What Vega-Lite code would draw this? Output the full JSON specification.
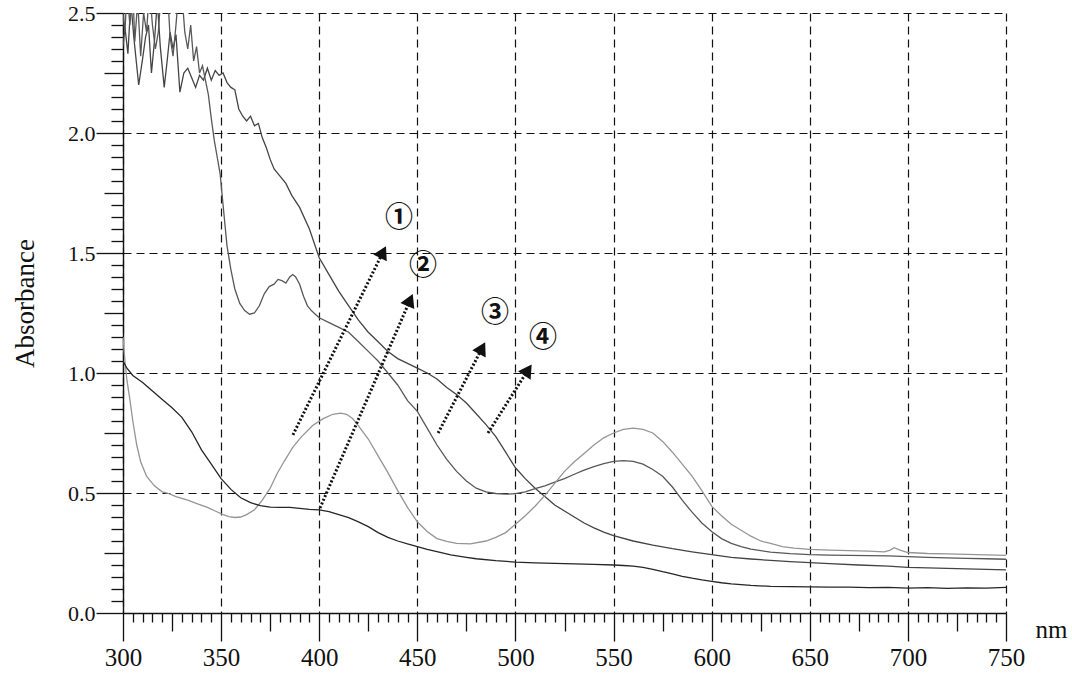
{
  "$schema": "https://vega.github.io/schema/vega-lite/v6.json",
  "width": 883,
  "height": 600,
  "autosize": {"type": "none"},
  "padding": {"left": 123, "top": 13, "right": 66, "bottom": 63},
  "background": "white",
  "config": {
    "view": {"stroke": null},
    "font": "Liberation Serif",
    "axis": {
      "domainColor": "#111",
      "domainWidth": 1.4,
      "tickColor": "#111",
      "tickWidth": 1.3,
      "gridColor": "#111",
      "gridWidth": 1.2,
      "gridDash": [8, 5],
      "labelColor": "#111",
      "titleColor": "#111",
      "labelFont": "Liberation Serif",
      "titleFont": "Liberation Serif",
      "titleFontWeight": "normal",
      "labelOverlap": false,
      "labelFlush": false
    }
  },
  "datasets": {
    "spectra": [
      {"curve": "1", "nm": 300, "A": 2.36}, {"curve": "1", "nm": 301, "A": 2.44}, {"curve": "1", "nm": 302.5, "A": 2.33}, {"curve": "1", "nm": 304, "A": 2.55}, {"curve": "1", "nm": 305.5, "A": 2.4}, {"curve": "1", "nm": 306.5, "A": 2.32}, {"curve": "1", "nm": 308, "A": 2.2}, {"curve": "1", "nm": 310, "A": 2.31}, {"curve": "1", "nm": 311.5, "A": 2.4}, {"curve": "1", "nm": 313, "A": 2.45}, {"curve": "1", "nm": 314.5, "A": 2.25}, {"curve": "1", "nm": 316, "A": 2.38}, {"curve": "1", "nm": 317.5, "A": 2.55}, {"curve": "1", "nm": 319, "A": 2.36}, {"curve": "1", "nm": 321, "A": 2.19}, {"curve": "1", "nm": 322.5, "A": 2.3}, {"curve": "1", "nm": 324, "A": 2.42}, {"curve": "1", "nm": 325.5, "A": 2.35}, {"curve": "1", "nm": 327, "A": 2.41}, {"curve": "1", "nm": 329, "A": 2.17}, {"curve": "1", "nm": 331, "A": 2.25}, {"curve": "1", "nm": 333, "A": 2.27}, {"curve": "1", "nm": 335, "A": 2.23}, {"curve": "1", "nm": 337, "A": 2.19}, {"curve": "1", "nm": 339, "A": 2.24}, {"curve": "1", "nm": 341, "A": 2.22}, {"curve": "1", "nm": 343, "A": 2.27}, {"curve": "1", "nm": 345, "A": 2.22}, {"curve": "1", "nm": 347, "A": 2.26}, {"curve": "1", "nm": 349, "A": 2.24}, {"curve": "1", "nm": 351, "A": 2.25}, {"curve": "1", "nm": 353, "A": 2.21}, {"curve": "1", "nm": 355, "A": 2.19}, {"curve": "1", "nm": 357, "A": 2.18}, {"curve": "1", "nm": 359, "A": 2.1}, {"curve": "1", "nm": 361, "A": 2.07}, {"curve": "1", "nm": 363, "A": 2.05}, {"curve": "1", "nm": 365, "A": 2.07}, {"curve": "1", "nm": 367, "A": 2.03}, {"curve": "1", "nm": 369, "A": 2.04}, {"curve": "1", "nm": 371, "A": 1.98}, {"curve": "1", "nm": 373, "A": 1.94}, {"curve": "1", "nm": 375, "A": 1.89}, {"curve": "1", "nm": 377, "A": 1.85}, {"curve": "1", "nm": 380, "A": 1.82}, {"curve": "1", "nm": 383, "A": 1.79}, {"curve": "1", "nm": 386, "A": 1.74}, {"curve": "1", "nm": 390, "A": 1.69}, {"curve": "1", "nm": 395, "A": 1.6}, {"curve": "1", "nm": 400, "A": 1.48}, {"curve": "1", "nm": 405, "A": 1.41}, {"curve": "1", "nm": 410, "A": 1.34}, {"curve": "1", "nm": 415, "A": 1.28}, {"curve": "1", "nm": 420, "A": 1.22}, {"curve": "1", "nm": 425, "A": 1.17}, {"curve": "1", "nm": 430, "A": 1.13}, {"curve": "1", "nm": 435, "A": 1.09}, {"curve": "1", "nm": 440, "A": 1.06}, {"curve": "1", "nm": 445, "A": 1.04}, {"curve": "1", "nm": 450, "A": 1.02}, {"curve": "1", "nm": 455, "A": 1.0}, {"curve": "1", "nm": 460, "A": 0.975}, {"curve": "1", "nm": 465, "A": 0.94}, {"curve": "1", "nm": 470, "A": 0.91}, {"curve": "1", "nm": 475, "A": 0.875}, {"curve": "1", "nm": 480, "A": 0.83}, {"curve": "1", "nm": 485, "A": 0.785}, {"curve": "1", "nm": 490, "A": 0.735}, {"curve": "1", "nm": 495, "A": 0.67}, {"curve": "1", "nm": 500, "A": 0.605}, {"curve": "1", "nm": 505, "A": 0.56}, {"curve": "1", "nm": 510, "A": 0.52}, {"curve": "1", "nm": 515, "A": 0.485}, {"curve": "1", "nm": 520, "A": 0.45}, {"curve": "1", "nm": 525, "A": 0.425}, {"curve": "1", "nm": 530, "A": 0.4}, {"curve": "1", "nm": 535, "A": 0.375}, {"curve": "1", "nm": 540, "A": 0.355}, {"curve": "1", "nm": 545, "A": 0.337}, {"curve": "1", "nm": 550, "A": 0.322}, {"curve": "1", "nm": 560, "A": 0.3}, {"curve": "1", "nm": 570, "A": 0.283}, {"curve": "1", "nm": 580, "A": 0.268}, {"curve": "1", "nm": 590, "A": 0.255}, {"curve": "1", "nm": 600, "A": 0.243}, {"curve": "1", "nm": 610, "A": 0.232}, {"curve": "1", "nm": 620, "A": 0.225}, {"curve": "1", "nm": 630, "A": 0.219}, {"curve": "1", "nm": 640, "A": 0.214}, {"curve": "1", "nm": 650, "A": 0.21}, {"curve": "1", "nm": 660, "A": 0.206}, {"curve": "1", "nm": 675, "A": 0.2}, {"curve": "1", "nm": 690, "A": 0.195}, {"curve": "1", "nm": 700, "A": 0.19}, {"curve": "1", "nm": 710, "A": 0.188}, {"curve": "1", "nm": 725, "A": 0.185}, {"curve": "1", "nm": 740, "A": 0.182}, {"curve": "1", "nm": 750, "A": 0.18},

      {"curve": "2", "nm": 300, "A": 2.5}, {"curve": "2", "nm": 301, "A": 2.42}, {"curve": "2", "nm": 302, "A": 2.6}, {"curve": "2", "nm": 303.5, "A": 2.45}, {"curve": "2", "nm": 305, "A": 2.6}, {"curve": "2", "nm": 306, "A": 2.38}, {"curve": "2", "nm": 307.5, "A": 2.55}, {"curve": "2", "nm": 309, "A": 2.32}, {"curve": "2", "nm": 310.5, "A": 2.5}, {"curve": "2", "nm": 312, "A": 2.42}, {"curve": "2", "nm": 313.5, "A": 2.6}, {"curve": "2", "nm": 315, "A": 2.45}, {"curve": "2", "nm": 316.5, "A": 2.35}, {"curve": "2", "nm": 318, "A": 2.42}, {"curve": "2", "nm": 319.5, "A": 2.6}, {"curve": "2", "nm": 321, "A": 2.55}, {"curve": "2", "nm": 322.5, "A": 2.62}, {"curve": "2", "nm": 324, "A": 2.4}, {"curve": "2", "nm": 325.5, "A": 2.32}, {"curve": "2", "nm": 327, "A": 2.45}, {"curve": "2", "nm": 328.5, "A": 2.6}, {"curve": "2", "nm": 330, "A": 2.58}, {"curve": "2", "nm": 331.5, "A": 2.42}, {"curve": "2", "nm": 333, "A": 2.35}, {"curve": "2", "nm": 334.5, "A": 2.45}, {"curve": "2", "nm": 336, "A": 2.3}, {"curve": "2", "nm": 337.5, "A": 2.36}, {"curve": "2", "nm": 339, "A": 2.25}, {"curve": "2", "nm": 340.5, "A": 2.28}, {"curve": "2", "nm": 342, "A": 2.22}, {"curve": "2", "nm": 343.5, "A": 2.16}, {"curve": "2", "nm": 345, "A": 2.06}, {"curve": "2", "nm": 346.5, "A": 1.97}, {"curve": "2", "nm": 348, "A": 1.9}, {"curve": "2", "nm": 349.5, "A": 1.83}, {"curve": "2", "nm": 351, "A": 1.7}, {"curve": "2", "nm": 353, "A": 1.53}, {"curve": "2", "nm": 355, "A": 1.43}, {"curve": "2", "nm": 357, "A": 1.35}, {"curve": "2", "nm": 359.5, "A": 1.29}, {"curve": "2", "nm": 362, "A": 1.26}, {"curve": "2", "nm": 364.5, "A": 1.245}, {"curve": "2", "nm": 367, "A": 1.25}, {"curve": "2", "nm": 369.5, "A": 1.28}, {"curve": "2", "nm": 372, "A": 1.33}, {"curve": "2", "nm": 374.5, "A": 1.36}, {"curve": "2", "nm": 377, "A": 1.37}, {"curve": "2", "nm": 379, "A": 1.39}, {"curve": "2", "nm": 381, "A": 1.385}, {"curve": "2", "nm": 383, "A": 1.375}, {"curve": "2", "nm": 385, "A": 1.4}, {"curve": "2", "nm": 386.5, "A": 1.41}, {"curve": "2", "nm": 388, "A": 1.4}, {"curve": "2", "nm": 390, "A": 1.37}, {"curve": "2", "nm": 392, "A": 1.32}, {"curve": "2", "nm": 394, "A": 1.28}, {"curve": "2", "nm": 396, "A": 1.26}, {"curve": "2", "nm": 398, "A": 1.245}, {"curve": "2", "nm": 400, "A": 1.23}, {"curve": "2", "nm": 405, "A": 1.21}, {"curve": "2", "nm": 410, "A": 1.19}, {"curve": "2", "nm": 415, "A": 1.17}, {"curve": "2", "nm": 420, "A": 1.13}, {"curve": "2", "nm": 425, "A": 1.09}, {"curve": "2", "nm": 430, "A": 1.05}, {"curve": "2", "nm": 435, "A": 1.0}, {"curve": "2", "nm": 440, "A": 0.95}, {"curve": "2", "nm": 445, "A": 0.885}, {"curve": "2", "nm": 450, "A": 0.84}, {"curve": "2", "nm": 455, "A": 0.77}, {"curve": "2", "nm": 460, "A": 0.7}, {"curve": "2", "nm": 465, "A": 0.64}, {"curve": "2", "nm": 470, "A": 0.59}, {"curve": "2", "nm": 475, "A": 0.55}, {"curve": "2", "nm": 480, "A": 0.52}, {"curve": "2", "nm": 485, "A": 0.505}, {"curve": "2", "nm": 490, "A": 0.498}, {"curve": "2", "nm": 495, "A": 0.495}, {"curve": "2", "nm": 500, "A": 0.497}, {"curve": "2", "nm": 505, "A": 0.505}, {"curve": "2", "nm": 510, "A": 0.518}, {"curve": "2", "nm": 515, "A": 0.53}, {"curve": "2", "nm": 520, "A": 0.545}, {"curve": "2", "nm": 525, "A": 0.56}, {"curve": "2", "nm": 530, "A": 0.578}, {"curve": "2", "nm": 535, "A": 0.595}, {"curve": "2", "nm": 540, "A": 0.61}, {"curve": "2", "nm": 545, "A": 0.622}, {"curve": "2", "nm": 550, "A": 0.632}, {"curve": "2", "nm": 555, "A": 0.635}, {"curve": "2", "nm": 560, "A": 0.632}, {"curve": "2", "nm": 565, "A": 0.62}, {"curve": "2", "nm": 570, "A": 0.598}, {"curve": "2", "nm": 575, "A": 0.57}, {"curve": "2", "nm": 580, "A": 0.525}, {"curve": "2", "nm": 585, "A": 0.47}, {"curve": "2", "nm": 590, "A": 0.42}, {"curve": "2", "nm": 595, "A": 0.375}, {"curve": "2", "nm": 600, "A": 0.34}, {"curve": "2", "nm": 605, "A": 0.31}, {"curve": "2", "nm": 610, "A": 0.29}, {"curve": "2", "nm": 615, "A": 0.277}, {"curve": "2", "nm": 620, "A": 0.266}, {"curve": "2", "nm": 630, "A": 0.254}, {"curve": "2", "nm": 640, "A": 0.247}, {"curve": "2", "nm": 650, "A": 0.243}, {"curve": "2", "nm": 660, "A": 0.241}, {"curve": "2", "nm": 670, "A": 0.24}, {"curve": "2", "nm": 680, "A": 0.239}, {"curve": "2", "nm": 690, "A": 0.238}, {"curve": "2", "nm": 700, "A": 0.235}, {"curve": "2", "nm": 710, "A": 0.232}, {"curve": "2", "nm": 720, "A": 0.23}, {"curve": "2", "nm": 730, "A": 0.228}, {"curve": "2", "nm": 740, "A": 0.226}, {"curve": "2", "nm": 750, "A": 0.224},

      {"curve": "3", "nm": 300, "A": 1.15}, {"curve": "3", "nm": 301, "A": 1.05}, {"curve": "3", "nm": 302, "A": 0.97}, {"curve": "3", "nm": 303.5, "A": 0.89}, {"curve": "3", "nm": 305, "A": 0.8}, {"curve": "3", "nm": 307, "A": 0.7}, {"curve": "3", "nm": 309, "A": 0.63}, {"curve": "3", "nm": 312, "A": 0.57}, {"curve": "3", "nm": 316, "A": 0.53}, {"curve": "3", "nm": 320, "A": 0.505}, {"curve": "3", "nm": 322.5, "A": 0.5}, {"curve": "3", "nm": 327, "A": 0.485}, {"curve": "3", "nm": 333, "A": 0.47}, {"curve": "3", "nm": 338, "A": 0.455}, {"curve": "3", "nm": 343, "A": 0.44}, {"curve": "3", "nm": 347, "A": 0.425}, {"curve": "3", "nm": 351, "A": 0.41}, {"curve": "3", "nm": 354, "A": 0.402}, {"curve": "3", "nm": 357, "A": 0.398}, {"curve": "3", "nm": 360, "A": 0.4}, {"curve": "3", "nm": 363, "A": 0.41}, {"curve": "3", "nm": 367, "A": 0.43}, {"curve": "3", "nm": 371, "A": 0.47}, {"curve": "3", "nm": 375, "A": 0.52}, {"curve": "3", "nm": 378.5, "A": 0.58}, {"curve": "3", "nm": 382, "A": 0.63}, {"curve": "3", "nm": 386.5, "A": 0.69}, {"curve": "3", "nm": 391, "A": 0.735}, {"curve": "3", "nm": 396.5, "A": 0.78}, {"curve": "3", "nm": 402, "A": 0.81}, {"curve": "3", "nm": 407, "A": 0.828}, {"curve": "3", "nm": 411, "A": 0.833}, {"curve": "3", "nm": 414, "A": 0.828}, {"curve": "3", "nm": 417, "A": 0.81}, {"curve": "3", "nm": 420, "A": 0.78}, {"curve": "3", "nm": 425, "A": 0.725}, {"curve": "3", "nm": 430, "A": 0.655}, {"curve": "3", "nm": 435, "A": 0.585}, {"curve": "3", "nm": 440, "A": 0.51}, {"curve": "3", "nm": 445, "A": 0.44}, {"curve": "3", "nm": 450, "A": 0.38}, {"curve": "3", "nm": 455, "A": 0.34}, {"curve": "3", "nm": 460, "A": 0.31}, {"curve": "3", "nm": 465, "A": 0.298}, {"curve": "3", "nm": 470, "A": 0.29}, {"curve": "3", "nm": 477, "A": 0.288}, {"curve": "3", "nm": 485, "A": 0.3}, {"curve": "3", "nm": 490, "A": 0.315}, {"curve": "3", "nm": 495, "A": 0.335}, {"curve": "3", "nm": 500, "A": 0.37}, {"curve": "3", "nm": 505, "A": 0.405}, {"curve": "3", "nm": 510, "A": 0.445}, {"curve": "3", "nm": 515, "A": 0.49}, {"curve": "3", "nm": 520, "A": 0.54}, {"curve": "3", "nm": 525, "A": 0.59}, {"curve": "3", "nm": 530, "A": 0.63}, {"curve": "3", "nm": 535, "A": 0.665}, {"curve": "3", "nm": 540, "A": 0.7}, {"curve": "3", "nm": 545, "A": 0.73}, {"curve": "3", "nm": 550, "A": 0.75}, {"curve": "3", "nm": 555, "A": 0.765}, {"curve": "3", "nm": 560, "A": 0.77}, {"curve": "3", "nm": 565, "A": 0.765}, {"curve": "3", "nm": 570, "A": 0.75}, {"curve": "3", "nm": 575, "A": 0.715}, {"curve": "3", "nm": 580, "A": 0.67}, {"curve": "3", "nm": 585, "A": 0.62}, {"curve": "3", "nm": 590, "A": 0.57}, {"curve": "3", "nm": 595, "A": 0.51}, {"curve": "3", "nm": 600, "A": 0.445}, {"curve": "3", "nm": 605, "A": 0.405}, {"curve": "3", "nm": 610, "A": 0.37}, {"curve": "3", "nm": 615, "A": 0.345}, {"curve": "3", "nm": 620, "A": 0.32}, {"curve": "3", "nm": 625, "A": 0.3}, {"curve": "3", "nm": 630, "A": 0.29}, {"curve": "3", "nm": 636, "A": 0.277}, {"curve": "3", "nm": 642, "A": 0.27}, {"curve": "3", "nm": 650, "A": 0.265}, {"curve": "3", "nm": 660, "A": 0.262}, {"curve": "3", "nm": 670, "A": 0.26}, {"curve": "3", "nm": 680, "A": 0.258}, {"curve": "3", "nm": 688, "A": 0.255}, {"curve": "3", "nm": 691, "A": 0.262}, {"curve": "3", "nm": 693, "A": 0.272}, {"curve": "3", "nm": 696, "A": 0.262}, {"curve": "3", "nm": 700, "A": 0.252}, {"curve": "3", "nm": 710, "A": 0.248}, {"curve": "3", "nm": 720, "A": 0.246}, {"curve": "3", "nm": 730, "A": 0.244}, {"curve": "3", "nm": 740, "A": 0.242}, {"curve": "3", "nm": 750, "A": 0.24},

      {"curve": "4", "nm": 300, "A": 1.05}, {"curve": "4", "nm": 302, "A": 1.02}, {"curve": "4", "nm": 305, "A": 0.99}, {"curve": "4", "nm": 310, "A": 0.96}, {"curve": "4", "nm": 315, "A": 0.925}, {"curve": "4", "nm": 320, "A": 0.89}, {"curve": "4", "nm": 325, "A": 0.855}, {"curve": "4", "nm": 330, "A": 0.815}, {"curve": "4", "nm": 335, "A": 0.755}, {"curve": "4", "nm": 340, "A": 0.68}, {"curve": "4", "nm": 345, "A": 0.62}, {"curve": "4", "nm": 350, "A": 0.56}, {"curve": "4", "nm": 355, "A": 0.515}, {"curve": "4", "nm": 360, "A": 0.48}, {"curve": "4", "nm": 365, "A": 0.46}, {"curve": "4", "nm": 370, "A": 0.447}, {"curve": "4", "nm": 375, "A": 0.441}, {"curve": "4", "nm": 380, "A": 0.44}, {"curve": "4", "nm": 385, "A": 0.44}, {"curve": "4", "nm": 390, "A": 0.436}, {"curve": "4", "nm": 395, "A": 0.432}, {"curve": "4", "nm": 400, "A": 0.43}, {"curve": "4", "nm": 405, "A": 0.422}, {"curve": "4", "nm": 410, "A": 0.41}, {"curve": "4", "nm": 415, "A": 0.397}, {"curve": "4", "nm": 420, "A": 0.38}, {"curve": "4", "nm": 425, "A": 0.36}, {"curve": "4", "nm": 430, "A": 0.335}, {"curve": "4", "nm": 435, "A": 0.315}, {"curve": "4", "nm": 440, "A": 0.3}, {"curve": "4", "nm": 445, "A": 0.288}, {"curve": "4", "nm": 450, "A": 0.277}, {"curve": "4", "nm": 455, "A": 0.265}, {"curve": "4", "nm": 460, "A": 0.256}, {"curve": "4", "nm": 467, "A": 0.242}, {"curve": "4", "nm": 475, "A": 0.232}, {"curve": "4", "nm": 480, "A": 0.226}, {"curve": "4", "nm": 490, "A": 0.218}, {"curve": "4", "nm": 500, "A": 0.212}, {"curve": "4", "nm": 510, "A": 0.209}, {"curve": "4", "nm": 520, "A": 0.207}, {"curve": "4", "nm": 530, "A": 0.205}, {"curve": "4", "nm": 540, "A": 0.203}, {"curve": "4", "nm": 550, "A": 0.2}, {"curve": "4", "nm": 555, "A": 0.198}, {"curve": "4", "nm": 560, "A": 0.195}, {"curve": "4", "nm": 565, "A": 0.19}, {"curve": "4", "nm": 570, "A": 0.182}, {"curve": "4", "nm": 575, "A": 0.172}, {"curve": "4", "nm": 580, "A": 0.163}, {"curve": "4", "nm": 585, "A": 0.153}, {"curve": "4", "nm": 590, "A": 0.145}, {"curve": "4", "nm": 595, "A": 0.138}, {"curve": "4", "nm": 600, "A": 0.132}, {"curve": "4", "nm": 605, "A": 0.126}, {"curve": "4", "nm": 610, "A": 0.121}, {"curve": "4", "nm": 620, "A": 0.115}, {"curve": "4", "nm": 630, "A": 0.111}, {"curve": "4", "nm": 640, "A": 0.11}, {"curve": "4", "nm": 650, "A": 0.109}, {"curve": "4", "nm": 660, "A": 0.108}, {"curve": "4", "nm": 670, "A": 0.108}, {"curve": "4", "nm": 680, "A": 0.106}, {"curve": "4", "nm": 690, "A": 0.107}, {"curve": "4", "nm": 700, "A": 0.104}, {"curve": "4", "nm": 710, "A": 0.106}, {"curve": "4", "nm": 720, "A": 0.103}, {"curve": "4", "nm": 730, "A": 0.105}, {"curve": "4", "nm": 740, "A": 0.104}, {"curve": "4", "nm": 750, "A": 0.107}
    ],
    "arrows": [
      {"arrow": "1", "nm": 386.6, "A": 0.742, "nm2": 432.5, "A2": 1.504},
      {"arrow": "2", "nm": 400.4, "A": 0.4375, "nm2": 446.3, "A2": 1.304},
      {"arrow": "3", "nm": 460.6, "A": 0.75, "nm2": 483.0, "A2": 1.104},
      {"arrow": "4", "nm": 486.0, "A": 0.75, "nm2": 506.4, "A2": 1.0125}
    ],
    "labels": [
      {"label": "①", "nm": 440.7, "A": 1.642},
      {"label": "②", "nm": 452.9, "A": 1.44},
      {"label": "③", "nm": 489.6, "A": 1.246},
      {"label": "④", "nm": 514.1, "A": 1.142}
    ]
  },
  "layer": [
    {
      "data": {"name": "spectra"},
      "mark": {"type": "line", "clip": true, "strokeWidth": 1.3, "interpolate": "linear"},
      "encoding": {
        "x": {
          "field": "nm", "type": "quantitative",
          "scale": {"domain": [300, 750], "nice": false, "zero": false},
          "axis": {
            "values": [300,305,310,315,320,325,330,335,340,345,350,355,360,365,370,375,380,385,390,395,400,405,410,415,420,425,430,435,440,445,450,455,460,465,470,475,480,485,490,495,500,505,510,515,520,525,530,535,540,545,550,555,560,565,570,575,580,585,590,595,600,605,610,615,620,625,630,635,640,645,650,655,660,665,670,675,680,685,690,695,700,705,710,715,720,725,730,735,740,745,750],
            "tickCount": 200,
            "labelExpr": "datum.value % 50 === 0 ? datum.label : ''",
            "tickSize": {"condition": [{"test": "datum.value % 50 === 0", "value": 28}, {"test": "datum.value % 25 === 0", "value": 18}], "value": 9},
            "gridOpacity": {"condition": {"test": "datum.value % 50 === 0", "value": 1}, "value": 0},
            "grid": true,
            "labelFont": "Liberation Serif",
            "labelFontSize": 25,
            "labelPadding": 4,
            "title": "nm",
            "titleFont": "Liberation Serif",
            "titleFontSize": 25,
            "titleAngle": 0,
            "titleAlign": "center",
            "titleBaseline": "alphabetic",
            "titleX": 928,
            "titleY": 24
          }
        },
        "y": {
          "field": "A", "type": "quantitative",
          "scale": {"domain": [0, 2.5], "nice": false, "zero": false},
          "axis": {
            "values": [0,0.05,0.1,0.15,0.2,0.25,0.3,0.35,0.4,0.45,0.5,0.55,0.6,0.65,0.7,0.75,0.8,0.85,0.9,0.95,1,1.05,1.1,1.15,1.2,1.25,1.3,1.35,1.4,1.45,1.5,1.55,1.6,1.65,1.7,1.75,1.8,1.85,1.9,1.95,2,2.05,2.1,2.15,2.2,2.25,2.3,2.35,2.4,2.45,2.5],
            "tickCount": 200,
            "labelExpr": "abs(datum.value*2 - round(datum.value*2)) < 0.000001 ? format(datum.value, '.1f') : ''",
            "tickSize": {"condition": [{"test": "abs(datum.value*2 - round(datum.value*2)) < 0.000001", "value": 27}, {"test": "abs(datum.value*4 - round(datum.value*4)) < 0.000001", "value": 19}], "value": 12},
            "gridOpacity": {"condition": {"test": "abs(datum.value*2 - round(datum.value*2)) < 0.000001", "value": 1}, "value": 0},
            "grid": true,
            "labelFont": "Liberation Serif",
            "labelFontSize": 22,
            "labelPadding": 1,
            "title": "Absorbance",
            "titleFont": "Liberation Serif",
            "titleFontSize": 27,
            "titleAngle": -90,
            "titleAlign": "center",
            "titleBaseline": "alphabetic",
            "titleX": -90,
            "titleY": 290
          }
        },
        "color": {
          "field": "curve", "type": "nominal",
          "scale": {"domain": ["1", "2", "3", "4"], "range": ["#444444", "#585858", "#959595", "#262626"]},
          "legend": null
        }
      }
    },
    {
      "data": {"name": "arrows"},
      "mark": {"type": "rule", "strokeDash": [2, 2], "strokeWidth": 3, "color": "#111"},
      "encoding": {
        "x": {"field": "nm", "type": "quantitative"},
        "y": {"field": "A", "type": "quantitative"},
        "x2": {"field": "nm2"},
        "y2": {"field": "A2"}
      }
    },
    {
      "data": {"name": "arrows"},
      "transform": [{"filter": "datum.arrow === '1'"}],
      "mark": {"type": "point", "shape": "triangle-up", "filled": true, "size": 230, "opacity": 1, "color": "#111", "angle": 27},
      "encoding": {"x": {"field": "nm2", "type": "quantitative"}, "y": {"field": "A2", "type": "quantitative"}}
    },
    {
      "data": {"name": "arrows"},
      "transform": [{"filter": "datum.arrow === '2'"}],
      "mark": {"type": "point", "shape": "triangle-up", "filled": true, "size": 230, "opacity": 1, "color": "#111", "angle": 24},
      "encoding": {"x": {"field": "nm2", "type": "quantitative"}, "y": {"field": "A2", "type": "quantitative"}}
    },
    {
      "data": {"name": "arrows"},
      "transform": [{"filter": "datum.arrow === '3'"}],
      "mark": {"type": "point", "shape": "triangle-up", "filled": true, "size": 230, "opacity": 1, "color": "#111", "angle": 28},
      "encoding": {"x": {"field": "nm2", "type": "quantitative"}, "y": {"field": "A2", "type": "quantitative"}}
    },
    {
      "data": {"name": "arrows"},
      "transform": [{"filter": "datum.arrow === '4'"}],
      "mark": {"type": "point", "shape": "triangle-up", "filled": true, "size": 230, "opacity": 1, "color": "#111", "angle": 34},
      "encoding": {"x": {"field": "nm2", "type": "quantitative"}, "y": {"field": "A2", "type": "quantitative"}}
    },
    {
      "data": {"name": "labels"},
      "mark": {"type": "text", "font": "Noto Sans CJK JP", "fontSize": 28, "fontWeight": "bold", "color": "#111", "align": "center", "baseline": "middle"},
      "encoding": {
        "x": {"field": "nm", "type": "quantitative"},
        "y": {"field": "A", "type": "quantitative"},
        "text": {"field": "label"}
      }
    }
  ]
}
